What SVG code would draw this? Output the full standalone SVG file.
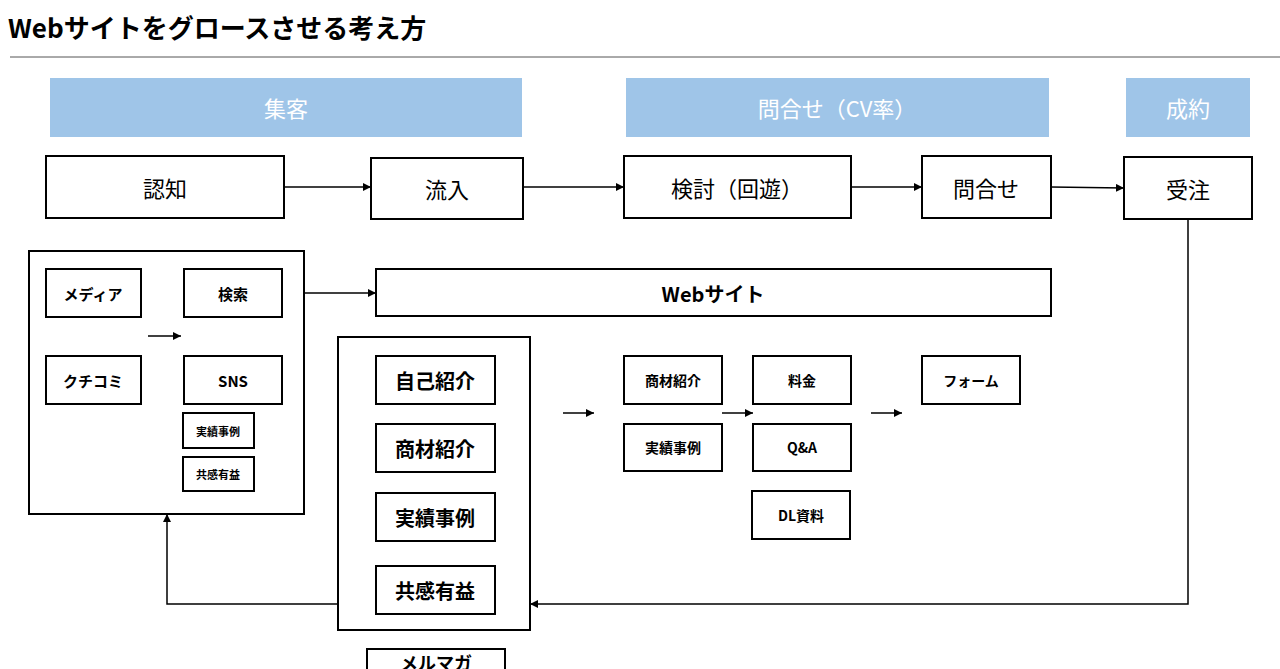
<svg xmlns="http://www.w3.org/2000/svg" width="1280" height="669" viewBox="0 0 1280 669">
<style>
text{font-family:"Noto Sans CJK JP","Liberation Sans",sans-serif;text-anchor:middle;dominant-baseline:central;fill:#000}
.b{fill:#fff;stroke:#000;stroke-width:2}
.h{fill:#9fc5e8}
.ht{fill:#fff;font-size:22px}
.big{font-size:22px}
.bold{font-weight:bold}
.c{fill:none;stroke:#000;stroke-width:1.5}
</style>
<defs><marker id="a" viewBox="0 0 10 10" refX="10" refY="5" markerWidth="8" markerHeight="8" orient="auto" markerUnits="userSpaceOnUse"><path d="M0,0L10,5L0,10z" fill="#000"/></marker></defs>
<rect width="1280" height="669" fill="#fff"/>
<text x="8" y="26" style="text-anchor:start;font-size:26px;font-weight:bold">Webサイトをグロースさせる考え方</text>
<line x1="10" y1="57" x2="1280" y2="57" stroke="#555" stroke-width="1"/>
<g id="h1"><rect class="h" x="50" y="78" width="472" height="59"/><text class="ht" x="286" y="107">集客</text></g>
<g id="h2"><rect class="h" x="626" y="78" width="423" height="59"/><text class="ht" x="837" y="107">問合せ（CV率）</text></g>
<g id="h3"><rect class="h" x="1126" y="78" width="124" height="59"/><text class="ht" x="1188" y="107">成約</text></g>
<g id="n1"><rect class="b" x="46" y="156" width="238" height="62"/><text class="big" x="165" y="187">認知</text></g>
<g id="n2"><rect class="b" x="371" y="158" width="152" height="61"/><text class="big" x="447" y="188">流入</text></g>
<g id="n3"><rect class="b" x="624" y="156" width="227" height="62"/><text class="big" x="737" y="187">検討（回遊）</text></g>
<g id="n4"><rect class="b" x="922" y="156" width="129" height="62"/><text class="big" x="986" y="187">問合せ</text></g>
<g id="n5"><rect class="b" x="1124" y="157" width="128" height="62"/><text class="big" x="1188" y="188">受注</text></g>
<g id="g1"><rect class="b" x="29" y="251" width="275" height="263"/></g>
<g id="m1"><rect class="b" x="46" y="269" width="95" height="48"/><text class="bold" font-size="15" x="93" y="293">メディア</text></g>
<g id="m2"><rect class="b" x="184" y="269" width="98" height="48"/><text class="bold" font-size="15" x="233" y="293">検索</text></g>
<g id="m3"><rect class="b" x="46" y="356" width="95" height="48"/><text class="bold" font-size="15" x="93" y="380">クチコミ</text></g>
<g id="m4"><rect class="b" x="184" y="356" width="98" height="48"/><text class="bold" font-size="15" x="233" y="380">SNS</text></g>
<g id="m5"><rect class="b" x="183" y="413" width="71" height="35"/><text class="bold" font-size="11" x="218" y="431">実績事例</text></g>
<g id="m6"><rect class="b" x="183" y="457" width="71" height="34"/><text class="bold" font-size="11" x="218" y="474">共感有益</text></g>
<g id="web"><rect class="b" x="376" y="269" width="675" height="47"/><text class="bold" font-size="20" x="713" y="293">Webサイト</text></g>
<g id="g2"><rect class="b" x="338" y="337" width="192" height="293"/></g>
<g id="s1"><rect class="b" x="376" y="356" width="119" height="48"/><text class="bold" font-size="20" x="435" y="380">自己紹介</text></g>
<g id="s2"><rect class="b" x="376" y="424" width="119" height="48"/><text class="bold" font-size="20" x="435" y="448">商材紹介</text></g>
<g id="s3"><rect class="b" x="376" y="493" width="119" height="48"/><text class="bold" font-size="20" x="435" y="517">実績事例</text></g>
<g id="s4"><rect class="b" x="376" y="566" width="119" height="48"/><text class="bold" font-size="20" x="435" y="590">共感有益</text></g>
<g id="mm"><rect class="b" x="367" y="649" width="138" height="30"/><text class="bold" font-size="18" x="436" y="662">メルマガ</text></g>
<g id="p1"><rect class="b" x="624" y="356" width="98" height="48"/><text class="bold" font-size="14" x="673" y="380">商材紹介</text></g>
<g id="p2"><rect class="b" x="624" y="424" width="98" height="47"/><text class="bold" font-size="14" x="673" y="447">実績事例</text></g>
<g id="p3"><rect class="b" x="753" y="356" width="98" height="48"/><text class="bold" font-size="14" x="802" y="380">料金</text></g>
<g id="p4"><rect class="b" x="753" y="424" width="98" height="47"/><text class="bold" font-size="14" x="802" y="447">Q&amp;A</text></g>
<g id="p5"><rect class="b" x="752" y="491" width="98" height="48"/><text class="bold" font-size="14" x="801" y="515">DL資料</text></g>
<g id="p6"><rect class="b" x="922" y="356" width="98" height="48"/><text class="bold" font-size="14" x="971" y="380">フォーム</text></g>
<g id="connectors">
<line class="c" x1="284" y1="187" x2="371" y2="187" marker-end="url(#a)"/>
<line class="c" x1="523" y1="187" x2="624" y2="187" marker-end="url(#a)"/>
<line class="c" x1="851" y1="187" x2="922" y2="187" marker-end="url(#a)"/>
<line class="c" x1="1051" y1="187" x2="1124" y2="188" marker-end="url(#a)"/>
<line class="c" x1="304" y1="293" x2="376" y2="293" marker-end="url(#a)"/>
<line class="c" x1="148" y1="336" x2="181" y2="336" marker-end="url(#a)"/>
<line class="c" x1="563" y1="413" x2="594" y2="413" marker-end="url(#a)"/>
<line class="c" x1="722" y1="413" x2="753" y2="413" marker-end="url(#a)"/>
<line class="c" x1="871" y1="413" x2="902" y2="413" marker-end="url(#a)"/>
<polyline class="c" points="1188,219 1188,604 530,604" marker-end="url(#a)"/>
<polyline class="c" points="338,604 167,604 167,514" marker-end="url(#a)"/>
</g>
</svg>
